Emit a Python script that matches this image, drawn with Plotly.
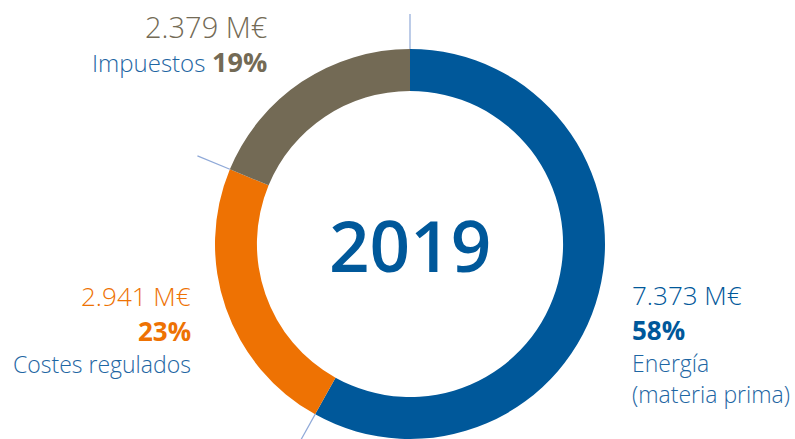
import math
import plotly.graph_objects as go

labels = ["Energía (materia prima)", "Costes regulados", "Impuestos"]
label_lines = [["Energía", "(materia prima)"], ["Costes regulados"], ["Impuestos"]]
values = [7373, 2941, 2379]
amount_text = ["7.373 M€", "2.941 M€", "2.379 M€"]
pct_text = ["58%", "23%", "19%"]
colors = ["#00589a", "#ee7203", "#736a55"]
year = "2019"

W, H = 795, 439
CX, CY, R = 410, 244, 195
TXT_BLUE = "#1e66a3"
FONT = "Open Sans"

fig = go.Figure(go.Pie(
    labels=labels, values=values, sort=False, direction="clockwise", rotation=0,
    hole=0.785, textinfo="none", hoverinfo="label+value+percent",
    marker=dict(colors=colors, line=dict(width=0)),
    domain=dict(x=[(CX - R) / W, (CX + R) / W], y=[0, 2 * R / H]),
    showlegend=False,
))

def px(x):
    return x / W

def py(y):
    return 1 - y / H

# separator tick lines computed from cumulative shares
total = sum(values)
cum = 0
for v in values:
    cum += v
    ang = 2 * math.pi * cum / total  # clockwise from top
    r1, r2 = R * 1.0, R * 1.18
    x1 = CX + r1 * math.sin(ang); y1 = CY - r1 * math.cos(ang)
    x2 = CX + r2 * math.sin(ang); y2 = CY - r2 * math.cos(ang)
    fig.add_shape(type="line", xref="paper", yref="paper",
                  x0=px(x1), y0=py(y1), x1=px(x2), y1=py(y2),
                  line=dict(color="#8fa9d8", width=1.2))

def ann(text, x, y, color, size, anchor, weight=300):
    fig.add_annotation(text=text, x=px(x), y=py(y), xref="paper", yref="paper",
                       xanchor=anchor, yanchor="middle", align=anchor if anchor != "center" else "center",
                       showarrow=False,
                       font=dict(family=FONT, size=size, color=color, weight=weight))

def span(t, color, size, bold=False):
    st = "color:%s;font-size:%dpx" % (color, size)
    if bold:
        st += ";font-weight:bold"
    return "<span style='%s'>%s</span>" % (st, t)

# center
ann(year, CX, CY, "#00589a", 71, "center", weight=600)

# Impuestos (top-left)
txt = span(amount_text[2], colors[2], 29) + "<br>" + \
      span(label_lines[2][0], TXT_BLUE, 24) + " " + span(pct_text[2], colors[2], 27, bold=True)
ann(txt, 269, 43, TXT_BLUE, 26, "right")

# Costes regulados (left)
ann(amount_text[1], 193, 296, colors[1], 26, "right")
ann(pct_text[1], 193, 331, colors[1], 26, "right", weight=700)
ann(label_lines[1][0], 193, 364, TXT_BLUE, 23, "right")

# Energía (right)
ann(amount_text[0], 630, 295, colors[0], 26, "left")
ann(pct_text[0], 630, 330, colors[0], 26, "left", weight=700)
ann(label_lines[0][0], 630, 363, TXT_BLUE, 23, "left")
ann(label_lines[0][1], 630, 394, TXT_BLUE, 23, "left")

fig.update_layout(width=W, height=H, margin=dict(l=0, r=0, t=0, b=0),
                  paper_bgcolor="white", plot_bgcolor="white")
fig.write_html("out.html", config={"displayModeBar": False},
               post_script="document.body.style.margin='0';document.body.style.padding='0';document.body.style.overflow='hidden';")
